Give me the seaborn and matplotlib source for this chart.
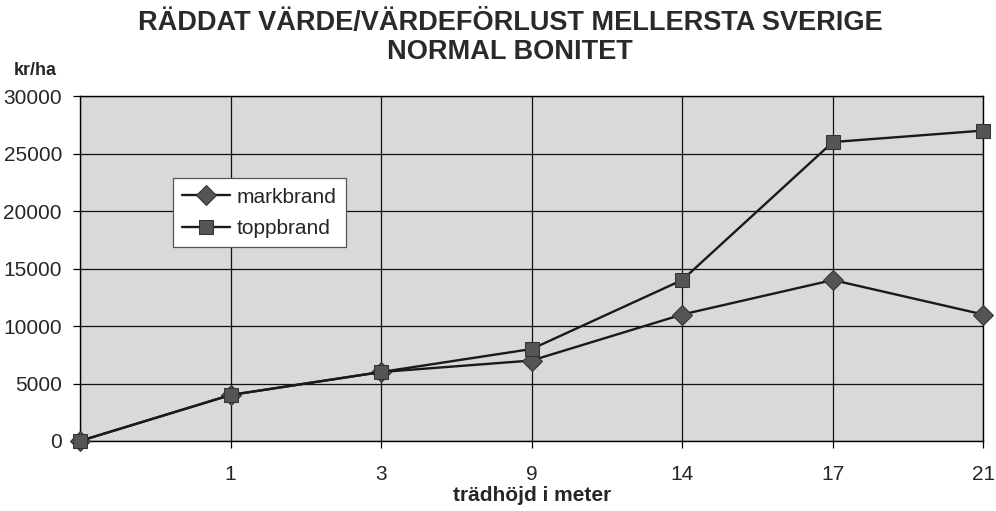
import pandas as pd
import numpy as np
import matplotlib
matplotlib.use("Agg")
import matplotlib.pyplot as plt
import seaborn as sns

sns.set_theme(style="white")
plt.rcParams['font.family'] = ['Liberation Sans', 'DejaVu Sans']

# data
heights = ['', '1', '3', '9', '14', '17', '21']
markbrand = [0, 4000, 6000, 7000, 11000, 14000, 11000]
toppbrand = [0, 4000, 6000, 8000, 14000, 26000, 27000]

pos = np.arange(len(heights))
df = pd.DataFrame({
    'pos': np.concatenate([pos, pos]),
    'value': markbrand + toppbrand,
    'serie': ['markbrand'] * len(pos) + ['toppbrand'] * len(pos),
})

fig = plt.figure(figsize=(9.96, 5.11), dpi=100)
ax = fig.add_axes([0.0803, 0.137, 0.907, 0.675])
ax.set_facecolor('#d9d9d9')

sns.lineplot(data=df, x='pos', y='value', hue='serie', style='serie',
             markers={'markbrand': 'D', 'toppbrand': 's'}, dashes=False,
             palette={'markbrand': '#1a1a1a', 'toppbrand': '#1a1a1a'},
             markersize=10, markerfacecolor='#555555', markeredgecolor='#333333',
             linewidth=1.7, ax=ax, clip_on=False, zorder=3)

ax.set_xlim(0, 6)
ax.set_ylim(0, 30000)
ax.set_xticks(pos)
ax.set_xticklabels(heights, fontsize=15)
ax.set_yticks(np.arange(0, 30001, 5000))
ax.set_yticklabels([str(v) for v in range(0, 30001, 5000)], fontsize=15)
ax.grid(True, color='#111111', linewidth=0.9)
ax.set_axisbelow(True)
for s in ax.spines.values():
    s.set_color('black')
    s.set_linewidth(1.0)
ax.tick_params(axis='both', direction='out', length=5, color='black', width=0.9,
               bottom=True, left=True)
ax.tick_params(axis='x', pad=12)
ax.tick_params(axis='y', pad=8)

ax.set_xlabel('trädhöjd i meter', fontsize=15, fontweight='bold', labelpad=2)
ax.set_ylabel('')
fig.text(0.035, 0.862, 'kr/ha', fontsize=13, fontweight='bold', ha='center', va='center')
fig.text(0.512, 0.955, 'RÄDDAT VÄRDE/VÄRDEFÖRLUST MELLERSTA SVERIGE',
         fontsize=19.5, fontweight='bold', ha='center', va='center', color='#2a2a2a')
fig.text(0.512, 0.898, 'NORMAL BONITET',
         fontsize=19.5, fontweight='bold', ha='center', va='center', color='#2a2a2a')

leg = ax.legend(loc='upper left', bbox_to_anchor=(0.103, 0.762), fontsize=15,
                frameon=True, fancybox=False, edgecolor='#555555', framealpha=1,
                handlelength=2.3, handletextpad=0.3, borderpad=0.45,
                labelspacing=0.6, borderaxespad=0)
leg.get_frame().set_linewidth(0.9)

fig.savefig('out.png', dpi=100)
